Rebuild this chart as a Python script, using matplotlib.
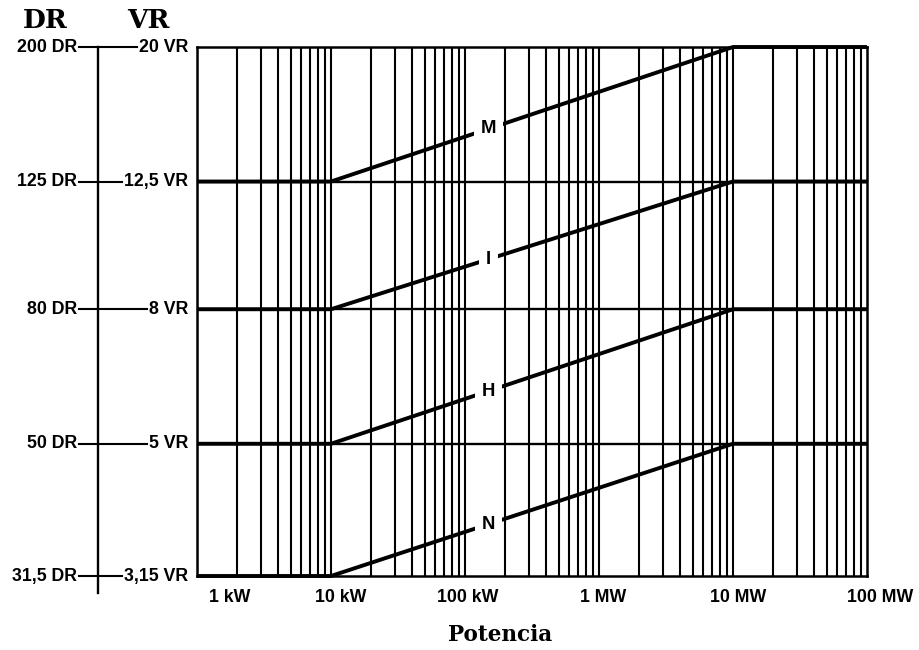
import numpy as np
import matplotlib
matplotlib.use("Agg")
import matplotlib.pyplot as plt
import matplotlib.transforms as mtransforms

# Data
vr_levels = [3.15, 5, 8, 12.5, 20]
dr_levels = [31.5, 50, 80, 125, 200]
classes = ["N", "H", "I", "M"]
low_vr = [3.15, 5, 8, 12.5]
high_vr = [5, 8, 12.5, 20]
power_breaks = [1e3, 1e4, 1e7, 1e8]      # W: flat, rise, flat
decades = [1e3, 1e4, 1e5, 1e6, 1e7, 1e8]
decade_labels = ["1 kW", "10 kW", "100 kW", "1 MW", "10 MW", "100 MW"]
label_power = 1.5e5                       # where the class letter sits

W, H = 919, 650
fig = plt.figure(figsize=(W / 100, H / 100), dpi=100)

sans = "Liberation Sans"
serif = "DejaVu Serif"
fs = 12.8
fw = "bold"

# main chart box (pixels)
left, right, top, bottom = 197, 867, 47, 576
ax = fig.add_axes([left / W, 1 - bottom / H, (right - left) / W, (bottom - top) / H])
ax.set_xscale("log")
ax.set_yscale("log")
ax.set_xlim(decades[0], decades[-1])
ax.set_ylim(vr_levels[0], vr_levels[-1])
ax.set_xticks([])
ax.set_yticks([])
ax.minorticks_off()
for s in ax.spines.values():
    s.set_linewidth(1.8)
    s.set_color("black")

# vertical grid: 1..9 x each decade
for d in decades[:-1]:
    for k in range(1, 10):
        ax.axvline(k * d, color="black", lw=1.5, zorder=1)

# horizontal level lines
for v in vr_levels[1:-1]:
    ax.axhline(v, color="black", lw=1.7, zorder=1)

# class curves
for c, lo, hi in zip(classes, low_vr, high_vr):
    ys = [lo, lo, hi, hi]
    ax.plot(power_breaks, ys, color="black", lw=2.8, zorder=2,
            solid_capstyle="butt", clip_on=False)
    ly = 10 ** np.interp(np.log10(label_power), np.log10(power_breaks), np.log10(ys))
    ax.text(label_power, ly, c, fontsize=fs + 0.5, family=sans, weight=fw,
            ha="center", va="center", zorder=3,
            bbox=dict(facecolor="white", edgecolor="none", pad=5))

# x labels under the box
blend = mtransforms.blended_transform_factory(ax.transData, ax.transAxes)
shifts = [33, 10, 3, 4, 5, 13]
for d, lab, sh in zip(decades, decade_labels, shifts):
    tr = blend + mtransforms.ScaledTranslation(sh / 100, 0, fig.dpi_scale_trans)
    ax.text(d, -0.025, lab, transform=tr, fontsize=fs, family=sans, weight=fw,
            ha="center", va="top")

# left scale: DR / VR
lax = fig.add_axes([0, 1 - bottom / H, 195 / W, (bottom - top) / H])
lax.set_yscale("log")
lax.set_ylim(vr_levels[0], vr_levels[-1])
lax.set_xlim(0, 195)
lax.axis("off")
lblend = mtransforms.blended_transform_factory(lax.transData, lax.transAxes)
lax.plot([98, 98], [1.0, -0.032], color="black", lw=1.7, transform=lblend, clip_on=False)


def fmt(v):
    return f"{v:g}".replace(".", ",")


fig.canvas.draw()
renderer = fig.canvas.get_renderer()
for dr, vr in zip(dr_levels, vr_levels):
    lax.text(77, vr, f"{fmt(dr)} DR", fontsize=fs, family=sans, weight=fw,
             ha="right", va="center")
    t = lax.text(188, vr, f"{fmt(vr)} VR", fontsize=fs, family=sans, weight=fw,
                 ha="right", va="center")
    bb = t.get_window_extent(renderer=renderer)
    x0 = lax.transData.inverted().transform((bb.x0, bb.y0))[0]
    lax.plot([79, x0 - 2], [vr, vr], color="black", lw=1.5, clip_on=False)

fig.text(45 / W, 1 - 21 / H, "DR", fontsize=19, family=serif, weight="bold",
         ha="center", va="center")
fig.text(148 / W, 1 - 21 / H, "VR", fontsize=19, family=serif, weight="bold",
         ha="center", va="center")
fig.text(500 / W, 1 - 635 / H, "Potencia", fontsize=15.5, family=serif, weight="bold",
         ha="center", va="center")

fig.savefig("out.png", dpi=100, facecolor="white")
